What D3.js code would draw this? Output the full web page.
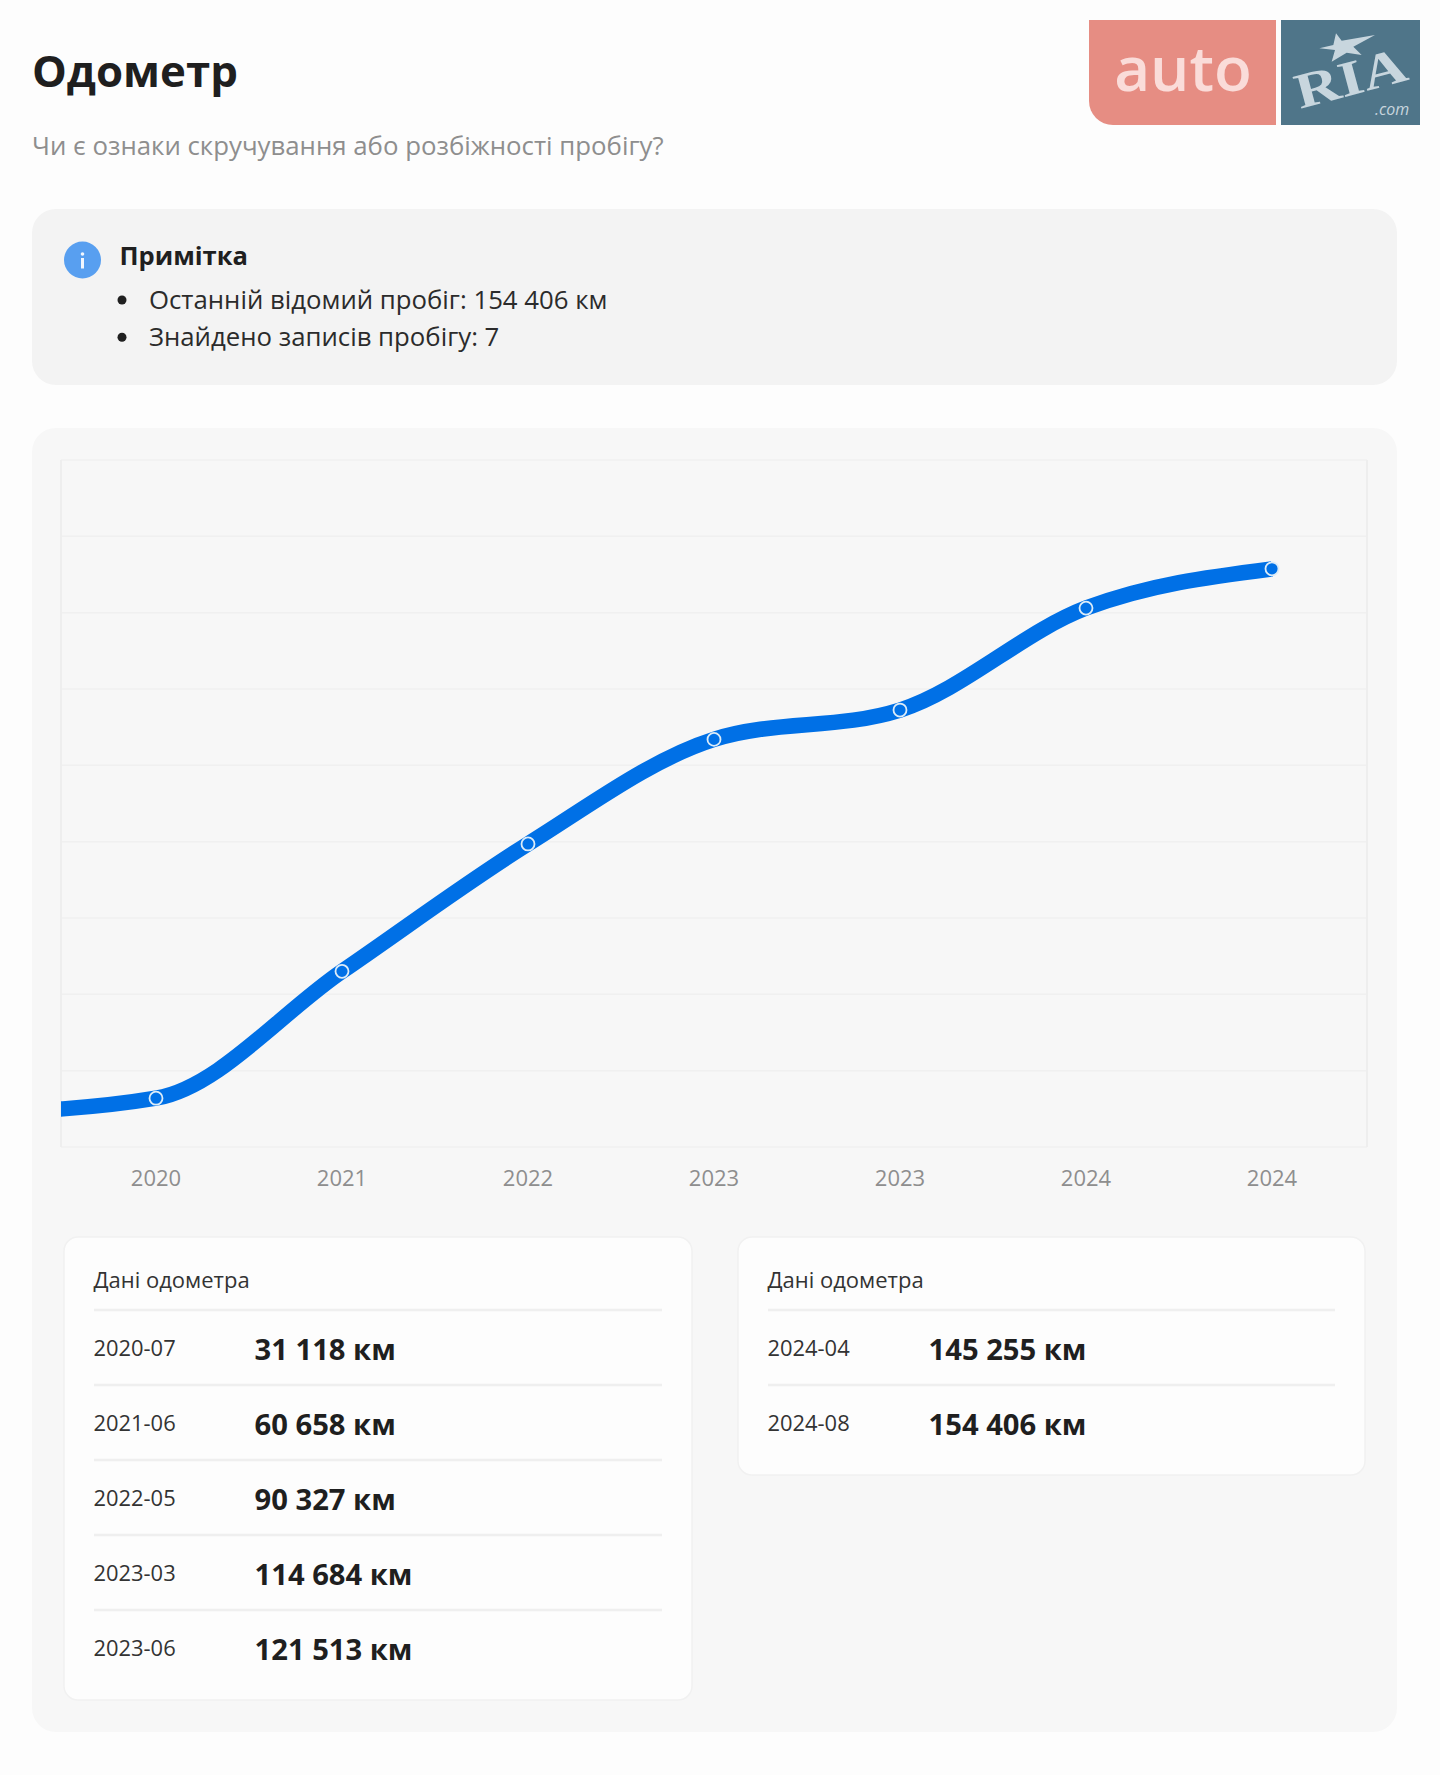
<!DOCTYPE html>
<html lang="uk">
<head>
<meta charset="utf-8">
<title>Одометр</title>
<script src="https://cdn.jsdelivr.net/npm/d3@7/dist/d3.min.js"></script>
<style>
  html, body { margin: 0; padding: 0; background: #fdfdfd; }
  svg { display: block; font-family: "Open Sans", "Noto Sans", sans-serif; }
</style>
</head>
<body>
<div id="page"></div>
<script>
// Odometer readings, in order of the records
const yearLabels = ["2020", "2021", "2022", "2023", "2023", "2024", "2024"];
const mileage = [31118, 60658, 90327, 114684, 121513, 145255, 154406];
const recordDates = ["2020-07", "2021-06", "2022-05", "2023-03", "2023-06", "2024-04", "2024-08"];
const mileageLabels = ["31 118 км", "60 658 км", "90 327 км", "114 684 км", "121 513 км", "145 255 км", "154 406 км"];
const leadInMileage = 27500;   // reading carried in from before the first record
const mileageDomain = [19750, 179750];
const gridIntervals = 9;

const noteLines = ["Останній відомий пробіг: 154 406 км", "Знайдено записів пробігу: 7"];

const svg = d3.select("#page").append("svg").attr("width", 1440).attr("height", 1775);

function text(parent, x, y, str, size, weight, fill, extra) {
  const t = parent.append("text").attr("x", x).attr("y", y).text(str)
    .attr("font-size", size).attr("font-weight", weight).attr("fill", fill);
  if (extra) extra(t);
  return t;
}

// Header
text(svg, 32, 87, "Одометр", 43.8, 700, "#1f1f1f");
text(svg, 32, 155, "Чи є ознаки скручування або розбіжності пробігу?", 25.8, 400, "#8e8e8e");

// Brand block
const logo = svg.append("g");
logo.append("path").attr("fill", "#e68d83")
  .attr("d", "M1089 20H1276V125H1113A24 24 0 0 1 1089 101Z");
logo.append("rect").attr("x", 1281).attr("y", 20).attr("width", 139).attr("height", 105).attr("fill", "#4f7589");
text(logo, 1183, 91, "auto", 62, 600, "#fadcd9", t => t.attr("text-anchor", "middle"));
logo.append("polygon").attr("fill", "#c8d6de")
  .attr("points", [[828,100],[845,122],[945,105],[880,140],[905,165],[860,158],[815,185],[825,150],[778,145],[820,135]]
    .map(p => [1060 + p[0] / 3, p[1] / 3].join(",")).join(" "));
logo.append("text").text("RIA").attr("transform", "translate(1300,109) rotate(-15)")
  .attr("font-family", "'Liberation Serif', serif").attr("font-weight", 700).attr("font-size", 50)
  .attr("fill", "#c8d6de").attr("textLength", 114).attr("lengthAdjust", "spacingAndGlyphs");
text(logo, 1375, 115, ".com", 16, 400, "#c8d6de", t => t.attr("font-style", "italic"));

// Note panel
svg.append("rect").attr("x", 32).attr("y", 209).attr("width", 1365).attr("height", 176).attr("rx", 24).attr("fill", "#f3f3f3");
svg.append("circle").attr("cx", 82.5).attr("cy", 260).attr("r", 18.5).attr("fill", "#589ff0");
svg.append("circle").attr("cx", 82.5).attr("cy", 254).attr("r", 1.8).attr("fill", "#f2f7fe");
svg.append("rect").attr("x", 81).attr("y", 258).attr("width", 3).attr("height", 10.5).attr("fill", "#f2f7fe");
text(svg, 119.5, 265, "Примітка", 25.6, 700, "#1f1f1f");
const noteRow = svg.selectAll("g.note").data(noteLines).join("g").attr("class", "note")
  .attr("transform", (d, i) => `translate(0,${309 + i * 37.2})`);
noteRow.append("circle").attr("cx", 122).attr("cy", -9).attr("r", 4.5).attr("fill", "#1f1f1f");
noteRow.append("text").attr("x", 149).attr("font-size", 25.75).attr("fill", "#2b2b2b").text(d => d);

// Chart panel
svg.append("rect").attr("x", 32).attr("y", 428).attr("width", 1365).attr("height", 1304).attr("rx", 24).attr("fill", "#f7f7f7");

const plot = { left: 61, right: 1367, top: 460, bottom: 1147 };
const x = d3.scaleLinear().domain([0, yearLabels.length - 1]).range([156, 1272]);
const y = d3.scaleLinear().domain(mileageDomain).range([plot.bottom, plot.top]);

const gridValues = d3.range(gridIntervals + 1).map(i => mileageDomain[0] + i * (mileageDomain[1] - mileageDomain[0]) / gridIntervals);
svg.append("g").selectAll("line").data(gridValues).join("line")
  .attr("x1", plot.left).attr("x2", plot.right)
  .attr("y1", d => y(d)).attr("y2", d => y(d))
  .attr("stroke", "#f0f0f0").attr("stroke-width", 1.5);
svg.append("g").selectAll("line").data([plot.left, plot.right]).join("line")
  .attr("x1", d => d).attr("x2", d => d).attr("y1", plot.top).attr("y2", plot.bottom)
  .attr("stroke", "#eeeeee").attr("stroke-width", 2);

svg.append("clipPath").attr("id", "plot-clip").append("rect")
  .attr("x", plot.left).attr("y", plot.top).attr("width", plot.right - plot.left).attr("height", plot.bottom - plot.top);

const series = [{ i: -1, v: leadInMileage }].concat(mileage.map((v, i) => ({ i, v })));
const line = d3.line().x(d => x(d.i)).y(d => y(d.v)).curve(d3.curveMonotoneX);
svg.append("path").datum(series).attr("d", line).attr("clip-path", "url(#plot-clip)")
  .attr("fill", "none").attr("stroke", "#0070e6").attr("stroke-width", 15.5);

svg.append("g").selectAll("circle").data(mileage).join("circle")
  .attr("cx", (d, i) => x(i)).attr("cy", d => y(d)).attr("r", 6.5)
  .attr("fill", "#0070e6").attr("stroke", "#dcecf8").attr("stroke-width", 1.8);

// Year labels under the plot
svg.append("g").selectAll("text").data(yearLabels).join("text")
  .attr("x", (d, i) => x(i)).attr("y", 1186).attr("text-anchor", "middle")
  .attr("font-size", 22).attr("fill", "#8e8e8e").text(d => d);

// Reading tables
const tables = [
  { left: 64, width: 628, top: 1237, rows: d3.range(0, 5) },
  { left: 738, width: 627, top: 1237, rows: d3.range(5, 7) }
];
const rowStep = 75;
tables.forEach(tb => {
  const g = svg.append("g");
  g.append("rect").attr("x", tb.left).attr("y", tb.top)
    .attr("width", tb.width).attr("height", 73 + tb.rows.length * rowStep + 15).attr("rx", 14)
    .attr("fill", "#fdfdfd").attr("stroke", "#f1f1f1").attr("stroke-width", 1.5);
  text(g, tb.left + 29.5, tb.top + 51, "Дані одометра", 22, 400, "#333333");
  tb.rows.forEach((r, k) => {
    const top = tb.top + 73 + k * rowStep;
    g.append("line").attr("x1", tb.left + 30).attr("x2", tb.left + tb.width - 30).attr("y1", top).attr("y2", top)
      .attr("stroke", "#efefef").attr("stroke-width", 2.5);
    text(g, tb.left + 29.5, top + 46, recordDates[r], 21.9, 400, "#333333");
    text(g, tb.left + 190.5, top + 50, mileageLabels[r], 29.2, 700, "#1f1f1f");
  });
});
</script>
</body>
</html>
